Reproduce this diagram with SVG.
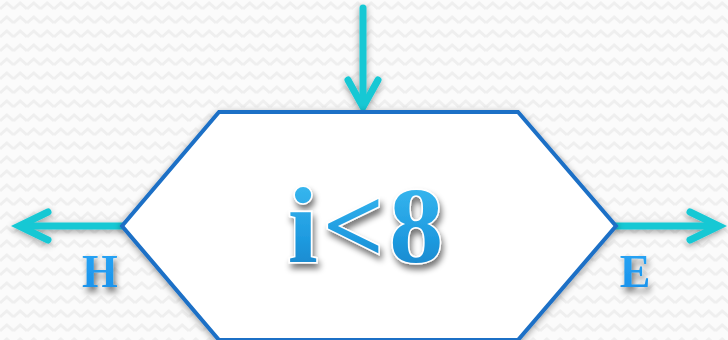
<svg xmlns="http://www.w3.org/2000/svg" width="728" height="340" viewBox="0 0 728 340">
<defs>
<pattern id="zz" width="13.5" height="14" patternUnits="userSpaceOnUse">
<path d="M0 9 L6.75 3 L13.5 9" fill="none" stroke="#efefef" stroke-width="3"/>
</pattern>
<filter id="sh" x="-20%" y="-20%" width="140%" height="140%">
<feGaussianBlur in="SourceAlpha" stdDeviation="3.5"/>
<feOffset dx="0" dy="2"/>
<feComponentTransfer><feFuncA type="linear" slope="0.4"/></feComponentTransfer>
<feMerge><feMergeNode/><feMergeNode in="SourceGraphic"/></feMerge>
</filter>
<filter id="tsh" x="-20%" y="-20%" width="140%" height="150%">
<feGaussianBlur in="SourceAlpha" stdDeviation="3"/>
<feOffset dx="2" dy="5"/>
<feComponentTransfer><feFuncA type="linear" slope="0.55"/></feComponentTransfer>
<feMerge><feMergeNode/><feMergeNode in="SourceGraphic"/></feMerge>
</filter>
<linearGradient id="tg" x1="0" y1="0" x2="0" y2="1">
<stop offset="0" stop-color="#3fc0f4"/>
<stop offset="0.6" stop-color="#1f9be0"/>
<stop offset="1" stop-color="#1a7fc4"/>
</linearGradient>
<linearGradient id="lg" x1="0" y1="0" x2="0" y2="1">
<stop offset="0" stop-color="#2aa6f5"/>
<stop offset="1" stop-color="#168fea"/>
</linearGradient>
<style>
.conn{stroke:#17c8d4;stroke-width:7;fill:none;stroke-linecap:round;stroke-linejoin:miter;}
.big{font-family:"Liberation Serif","Times New Roman",serif;font-weight:bold;font-size:108px;fill:url(#tg);stroke:#ffffff;stroke-width:3;paint-order:stroke;}
.lbl{font-family:"Liberation Serif","Times New Roman",serif;font-weight:bold;font-size:46px;fill:url(#lg);}
</style>
</defs>
<rect width="728" height="340" fill="#fbfbfb"/>
<rect width="728" height="340" fill="url(#zz)"/>
<g id="connectors" filter="url(#sh)">
<path class="conn" d="M363 8 L363 104" stroke-linecap="butt"/>
<path class="conn" d="M348 80 L363 107 L378 80"/>
<path class="conn" d="M122 226 L22 226" stroke-linecap="butt"/>
<path class="conn" d="M48 212 L19 226 L48 240"/>
<path class="conn" d="M616 226 L714 226" stroke-linecap="butt"/>
<path class="conn" d="M690 212 L719 226 L690 240"/>
</g>
<g id="decision" filter="url(#sh)">
<polygon points="219,112 518,112 616,226 518,340 219,340 122,226" fill="#ffffff" stroke="#1c6fc6" stroke-width="4" stroke-linejoin="miter"/>
</g>
<g id="decision-label" filter="url(#tsh)">
<text class="big" x="368" y="262" text-anchor="middle" letter-spacing="5">i&lt;8</text>
</g>
<g id="label-H" filter="url(#tsh)">
<text class="lbl" x="100" y="287" text-anchor="middle">H</text>
</g>
<g id="label-E" filter="url(#tsh)">
<text class="lbl" x="635" y="287" text-anchor="middle">E</text>
</g>
</svg>
